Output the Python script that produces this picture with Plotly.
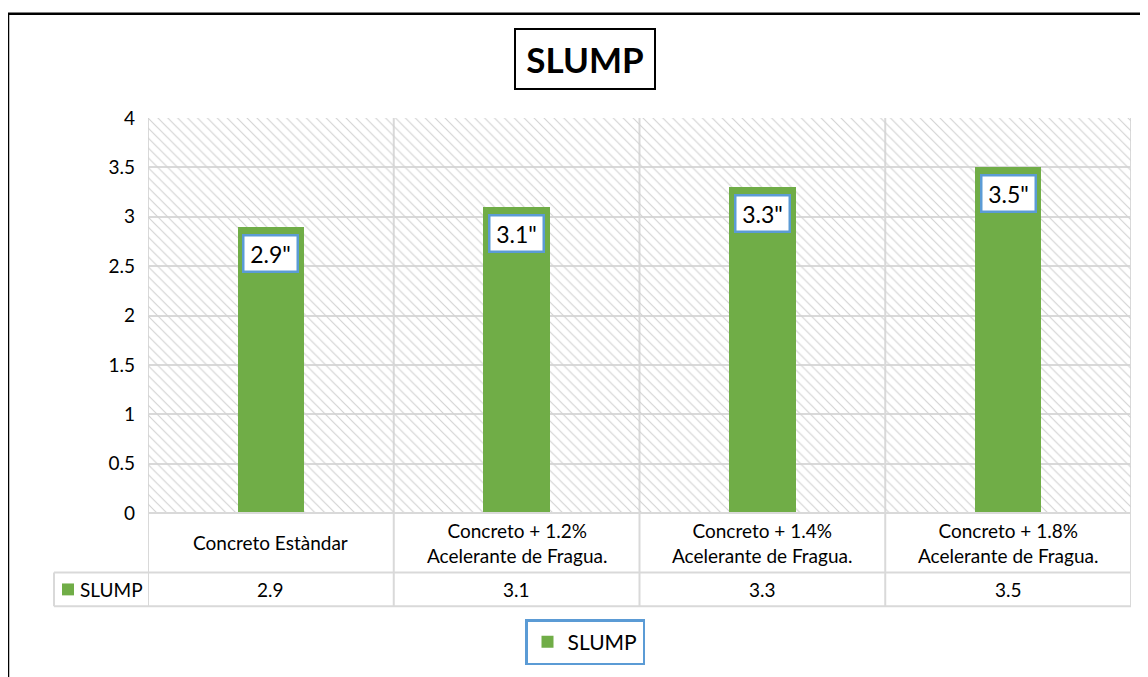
import plotly.graph_objects as go

# ---- data ----
CATEGORIES = [
    "Concreto Estàndar",
    "Concreto + 1.2%<br>Acelerante de Fragua.",
    "Concreto + 1.4%<br>Acelerante de Fragua.",
    "Concreto + 1.8%<br>Acelerante de Fragua.",
]
SERIES_NAME = "SLUMP"
SLUMP_VALUES = [2.9, 3.1, 3.3, 3.5]
DATA_LABELS = ['2.9"', '3.1"', '3.3"', '3.5"']
TABLE_VALUES = ["2.9", "3.1", "3.3", "3.5"]
Y_TICKS = [0, 0.5, 1, 1.5, 2, 2.5, 3, 3.5, 4]
Y_TICK_TEXT = ["0", "0.5", "1", "1.5", "2", "2.5", "3", "3.5", "4"]
TITLE = "SLUMP"

# ---- layout geometry (page pixels; the page body adds an 8px margin) ----
OFF = 8
W, H = 1148 - OFF, 677 - OFF
L, R, T, B = 148, 1131, 118, 516          # plot area in page pixels
PW, PH = R - L, B - T
FONT = "Lato"
GREEN = "#70ad47"
BLUE = "#5b9bd5"
GRID = "#d9d9d9"
Y_MIN, Y_MAX = Y_TICKS[0], Y_TICKS[-1]
N = len(CATEGORIES)
X_MIN, X_MAX = -0.5, N - 0.5


def px(x):
    return (x - L) / PW


def py(y):
    return (B - y) / PH


xs = list(range(N))

fig = go.Figure()

# hatched plot-area background (one full-width cell per category)
fig.add_trace(go.Bar(
    x=xs, y=[Y_MAX] * N, width=1,
    marker=dict(color="rgba(0,0,0,0)", line=dict(width=0),
                pattern=dict(shape="\\", size=7, solidity=0.16,
                             fgcolor="#d2d2d2", bgcolor="rgba(0,0,0,0)",
                             fillmode="replace")),
    hoverinfo="skip", showlegend=False,
))

fig.add_trace(go.Bar(
    x=xs, y=SLUMP_VALUES, width=0.27, name=SERIES_NAME,
    marker=dict(color=GREEN, line=dict(width=0)),
    hovertemplate="%{y}<extra></extra>",
))

annotations = []
shapes = []

# data labels
for i, (v, t) in enumerate(zip(SLUMP_VALUES, DATA_LABELS)):
    annotations.append(dict(
        x=i, y=v, xref="x", yref="y", text=t, showarrow=False,
        yanchor="top", yshift=-7, font=dict(family=FONT, size=23, color="#000"),
        bgcolor="white", bordercolor=BLUE, borderwidth=2.5, borderpad=3,
        width=46, height=28,
    ))

# category labels and table values
for i, (c, tv) in enumerate(zip(CATEGORIES, TABLE_VALUES)):
    annotations.append(dict(
        x=i, y=py(546), xref="x", yref="paper", text=c, showarrow=False,
        yanchor="middle", font=dict(family=FONT, size=19, color="#000"),
    ))
    annotations.append(dict(
        x=i, y=py(593), xref="x", yref="paper", text=tv, showarrow=False,
        yanchor="middle", font=dict(family=FONT, size=19, color="#000"),
    ))

# table legend cell
annotations.append(dict(
    x=px(78), y=py(593), xref="paper", yref="paper", text=SERIES_NAME,
    showarrow=False, xanchor="left", yanchor="middle",
    font=dict(family=FONT, size=19, color="#000"),
))
shapes.append(dict(type="rect", xref="paper", yref="paper",
                   x0=px(62), x1=px(74), y0=py(599), y1=py(587),
                   fillcolor=GREEN, line=dict(width=0)))

# title
annotations.append(dict(
    x=px(585), y=py(59), xref="paper", yref="paper", text="<b>" + TITLE + "</b>",
    showarrow=False, xanchor="center", yanchor="middle",
    font=dict(family=FONT, size=35, color="#000"),
    bgcolor="white", bordercolor="#000", borderwidth=2, borderpad=3,
    width=132, height=52,
))

# table / grid lines
LINE = dict(color=GRID, width=2)
for k in range(N + 1):
    xv = X_MIN + k
    shapes.append(dict(type="line", xref="x", yref="paper", x0=xv, x1=xv,
                       y0=py(610), y1=1, line=LINE, layer="below"))
for yy, x0 in [(516, L), (576, 54), (610, 54)]:
    shapes.append(dict(type="line", xref="paper", yref="paper",
                       x0=px(x0), x1=1, y0=py(yy), y1=py(yy), line=LINE))
shapes.append(dict(type="line", xref="paper", yref="paper",
                   x0=px(54), x1=px(54), y0=py(610), y1=py(576), line=LINE))

# outer chart frame
FRAME = dict(color="#000", width=2.5)
shapes.append(dict(type="line", xref="paper", yref="paper",
                   x0=px(8), x1=px(1160), y0=py(13), y1=py(13), line=FRAME))
shapes.append(dict(type="line", xref="paper", yref="paper",
                   x0=px(8), x1=px(8), y0=py(13), y1=py(690), line=FRAME))

fig.update_layout(
    width=W, height=H,
    margin=dict(l=L - OFF, r=(W + OFF) - R, t=T - OFF, b=(H + OFF) - B),
    paper_bgcolor="white", plot_bgcolor="white",
    font=dict(family=FONT, color="#000"),
    barmode="overlay", bargap=0,
    xaxis=dict(range=[X_MIN, X_MAX], showgrid=False, zeroline=False,
               showticklabels=False, ticks="", fixedrange=True),
    yaxis=dict(range=[Y_MIN, Y_MAX], tickvals=Y_TICKS, ticktext=Y_TICK_TEXT,
               showgrid=True, gridcolor=GRID, gridwidth=2, zeroline=False,
               tickfont=dict(family=FONT, size=19, color="#000"),
               ticklabelstandoff=12, fixedrange=True),
    showlegend=True,
    legend=dict(orientation="h", x=px(585), xanchor="center",
                y=py(623), yanchor="top", bordercolor=BLUE, borderwidth=2.5,
                bgcolor="white", font=dict(family=FONT, size=21, color="#000")),
    annotations=annotations,
    shapes=shapes,
)

fig.write_html("out.html")
